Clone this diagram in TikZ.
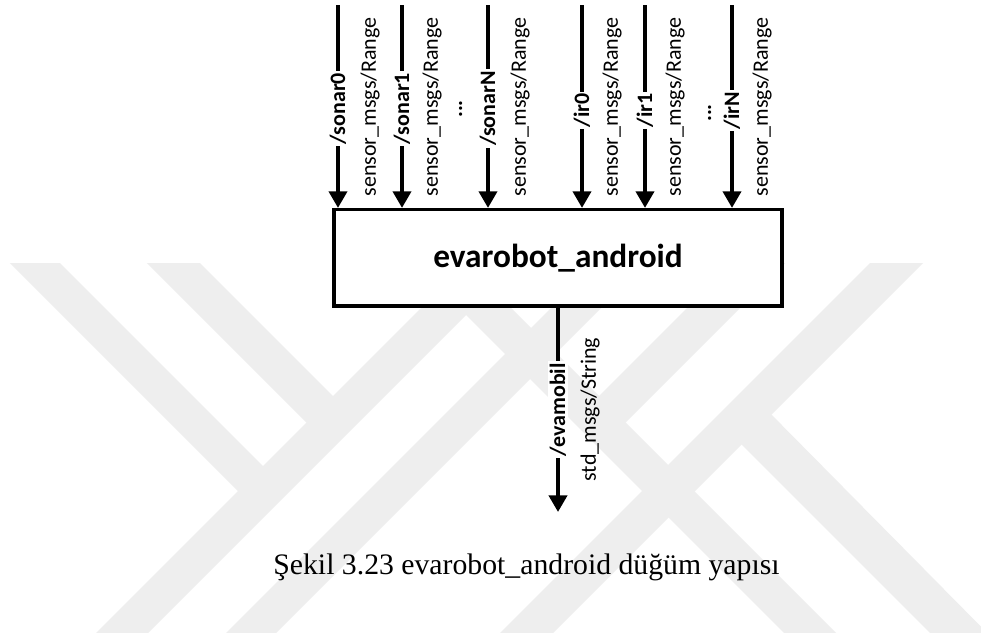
\documentclass[tikz,border=0pt]{standalone}
\usepackage{fontspec}
\setmainfont{Carlito}
\newfontfamily\capfont{Liberation Serif}
\usetikzlibrary{arrows.meta,calc}
\definecolor{wm}{RGB}{238,238,238}
\begin{document}
\begin{tikzpicture}[x=0.75pt,y=-0.75pt,
  arr/.style={line width=3pt,-{Triangle[length=12.5pt,width=13.5pt]}},
  topic/.style={font=\fontsize{16.5}{19}\selectfont\bfseries, rotate=90, fill=white, inner sep=1.5pt},
  msgtype/.style={font=\fontsize{16.5}{19}\selectfont, rotate=90, inner sep=0pt},
  vdots/.style={font=\fontsize{16.5}{19}\selectfont\bfseries, rotate=90, inner sep=0pt, anchor=base},
  mainbox/.style={draw, line width=2.6pt, fill=white, minimum width=336pt, minimum height=72.2pt, inner sep=0pt, font=\fontsize{25}{30}\selectfont\bfseries},
  wmband/.style={fill=wm, draw=none},
  caption/.style={font=\capfont\fontsize{22.3}{26}\selectfont, anchor=base, inner sep=0pt}]

\fill[white] (0,0) rectangle (981,639);
\useasboundingbox (0,0) rectangle (981,639);

% watermark
\begin{scope}
  \clip (0,263) rectangle (981,632);
  \fill[wmband] (479,250) -- (531,250) -- (131,650) -- (79,650) -- cycle;      % L
  \fill[wmband] (609,250) -- (659,250) -- (259,650) -- (209,650) -- cycle;     % M
  \fill[wmband] (401,250) -- (453,250) -- (853,650) -- (801,650) -- cycle;     % R2
  \fill[wmband] (883,250) -- (936,250) -- (536,650) -- (483,650) -- cycle;     % P
  \fill[wmband] (-3,250) -- (47,250) -- (273.5,476.5) -- (248.5,501.5) -- cycle; % A
  \fill[wmband] (134,250) -- (187,250) -- (343.5,406.5) -- (317,433) -- cycle;   % B
  \fill[wmband] (745,250) -- (798,250) -- (614,434) -- (587.5,407.5) -- cycle;   % Q
  \fill[wmband] (761.5,404.5) -- (1004,650) -- (947,650) -- (731.5,434.5) -- cycle; % R1
\end{scope}

\node[mainbox] (box) at (558,257.8) {evarobot\_android};

\coordinate (s0) at (338,5);
\coordinate (s1) at (402,5);
\coordinate (sN) at (488,5);
\coordinate (i0) at (582,5);
\coordinate (i1) at (645,5);
\coordinate (iN) at (732,5);

\draw[arr] (s0) -- node[topic,pos=0.51] (ls0) {/sonar0} (s0 |- box.north);
\draw[arr] (s1) -- node[topic,pos=0.51] (ls1) {/sonar1} (s1 |- box.north);
\draw[arr] (sN) -- node[topic,pos=0.51] (lsN) {/sonarN} (sN |- box.north);
\draw[arr] (i0) -- node[topic,pos=0.52] (li0) {/ir0} (i0 |- box.north);
\draw[arr] (i1) -- node[topic,pos=0.52] (li1) {/ir1} (i1 |- box.north);
\draw[arr] (iN) -- node[topic,pos=0.52] (liN) {/irN} (iN |- box.north);

\node[msgtype] (ts0) at (370,107) {sensor\_msgs/Range};
\node[msgtype] (ts1) at (432,107) {sensor\_msgs/Range};
\node[msgtype] (tsN) at (520,107) {sensor\_msgs/Range};
\node[msgtype] (ti0) at (612,107) {sensor\_msgs/Range};
\node[msgtype] (ti1) at (675,107) {sensor\_msgs/Range};
\node[msgtype] (tiN) at (762,107) {sensor\_msgs/Range};

\node[vdots] (d1) at (462,109) {...};
\node[vdots] (d2) at (711,113) {...};

\coordinate (outp) at (558,512);
\draw[arr] (box.south) -- node[topic,pos=0.5] (lout) {/evamobil} (outp);
\node[msgtype] (tout) at (590,409.5) {std\_msgs/String};

\node[caption] (cap) at (526.5,574) {Şekil 3.23 evarobot\_android düğüm yapısı};
\end{tikzpicture}
\end{document}
